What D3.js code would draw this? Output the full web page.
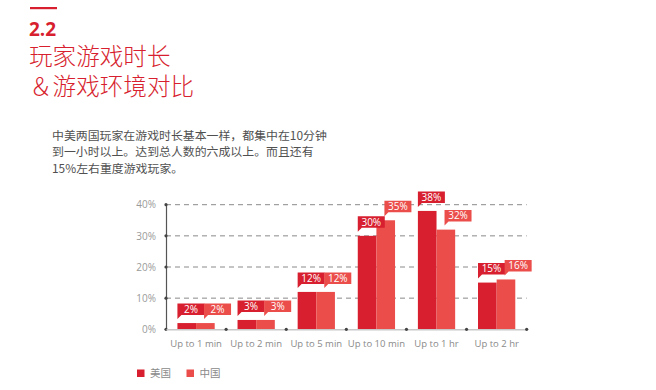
<!DOCTYPE html>
<html><head><meta charset="utf-8">
<script src="https://cdn.jsdelivr.net/npm/d3@7/dist/d3.min.js"></script>
<style>
body{margin:0;background:#fff;}
svg{display:block;}
</style></head>
<body>
<svg id="c" width="656" height="390"></svg>
<script>
const categories = ["Up to 1 min","Up to 2 min","Up to 5 min","Up to 10 min","Up to 1 hr","Up to 2 hr"];
const seriesNames = ["美国","中国"];
const usValues = [2,3,12,30,38,15];
const cnValues = [2,3,12,35,32,16];
const yTicks = [0,10,20,30,40];
const titleNum = "2.2";
const titleLines = ["玩家游戏时长","＆游戏环境对比"];
const bodyLines = ["中美两国玩家在游戏时长基本一样，都集中在10分钟","到一小时以上。达到总人数的六成以上。而且还有","15%左右重度游戏玩家。"];

const colors = {"美国":"#d71f2f","中国":"#eb4d4b"};
const red = "#d71f2f";
const cjk = "'Noto Sans CJK SC','Noto Sans',sans-serif";
const lat = "'Open Sans','Noto Sans',sans-serif";

const svg = d3.select("#c");

// Title block
svg.append("rect").attr("x",30).attr("y",7).attr("width",27).attr("height",2.2).attr("fill",red);
svg.append("text").attr("x",29).attr("y",35.5).text(titleNum)
  .attr("font-family",lat).attr("font-weight",700).attr("font-size",19).attr("fill",red);
titleLines.forEach((t,i)=>{
  svg.append("text").attr("x",29).attr("y",64.5+i*30.5).text(t)
    .attr("font-family",cjk).attr("font-weight",300).attr("font-size",23.6).attr("fill",red);
});
bodyLines.forEach((t,i)=>{
  svg.append("text").attr("x",52).attr("y",139.5+i*16.5).text(t)
    .attr("font-family",cjk).attr("font-size",11.9).attr("fill","#505050");
});

// Chart
const x0 = 166, x1 = 526.7, yBase = 329.3, yTop = 204.7;
const x = d3.scaleBand().domain(categories).range([x0,x1]).paddingInner(0.38).paddingOuter(0.19);
const xs = d3.scaleBand().domain(seriesNames).range([0,x.bandwidth()]);
const y = d3.scaleLinear().domain([0,40]).range([yBase,yTop]);

const g = svg.append("g");

// grid
g.selectAll("line.grid").data(yTicks.filter(d=>d>0)).join("line")
  .attr("x1",x0).attr("x2",x1).attr("y1",d=>y(d)).attr("y2",d=>y(d))
  .attr("stroke","#8a8a8a").attr("stroke-width",1).attr("stroke-dasharray","5,4");

// y axis
const yAxis = g.append("g").attr("transform",`translate(${x0},0)`)
  .call(d3.axisLeft(y).tickValues(yTicks).tickFormat(d=>d+"%").tickSize(0).tickPadding(10));
yAxis.select(".domain").attr("stroke","#555").attr("stroke-width",1.2);
yAxis.selectAll("text").attr("font-family",lat).attr("font-size",10).attr("fill","#9a9a9a");
g.selectAll("circle.ytick").data(yTicks).join("circle")
  .attr("cx",x0).attr("cy",d=>y(d)).attr("r",1.6).attr("fill","#444");

// bars
const data = categories.map((c,i)=>({cat:c, vals:[{s:"美国",v:usValues[i]},{s:"中国",v:cnValues[i]}]}));
const grp = g.selectAll("g.grp").data(data).join("g").attr("transform",d=>`translate(${x(d.cat)},0)`);
grp.selectAll("rect").data(d=>d.vals).join("rect")
  .attr("x",d=>xs(d.s)).attr("width",xs.bandwidth())
  .attr("y",d=>y(d.v)).attr("height",d=>yBase-y(d.v))
  .attr("fill",d=>colors[d.s]);

// x axis baseline
const xAxis = g.append("g").attr("transform",`translate(0,${yBase})`)
  .call(d3.axisBottom(x).tickSize(0).tickPadding(11));
xAxis.select(".domain").attr("stroke","#c8c8c8").attr("stroke-width",1.5);
xAxis.selectAll("text").attr("font-family",lat).attr("font-size",9.5).attr("fill","#8a8a8a");
g.selectAll("circle.xtick").data(categories).join("circle")
  .attr("cx",d=>x(d)+x.bandwidth()+x.step()*x.paddingInner()/2).attr("cy",yBase).attr("r",1.6).attr("fill","#444");

// value labels (flag style)
const lw = 27, lh = 11.5, gap = 8;
const lab = grp.selectAll("g.lab").data(d=>d.vals).join("g")
  .attr("transform",d=>{
    const lx = xs(d.s) + (d.s==="中国"?8:0);
    const ly = y(d.v) - gap - lh;
    return `translate(${lx},${ly})`;
  });
lab.append("path")
  .attr("d",`M0,0H${lw}V${lh}H4L0,${lh+4}Z`)
  .attr("fill",d=>colors[d.s]);
lab.append("text").attr("x",lw/2).attr("y",lh/2+3.6).attr("text-anchor","middle")
  .text(d=>d.v+"%").attr("font-family",lat).attr("font-size",10).attr("fill","#fff");

// legend
const leg = svg.append("g").selectAll("g").data(seriesNames).join("g")
  .attr("transform",(d,i)=>`translate(${137+i*49.5},369.5)`);
leg.append("rect").attr("width",7.5).attr("height",7.5).attr("fill",d=>colors[d]);
leg.append("text").attr("x",13).attr("y",7.8).text(d=>d)
  .attr("font-family",cjk).attr("font-size",10.5).attr("fill","#8a8a8a");
</script>
</body></html>
